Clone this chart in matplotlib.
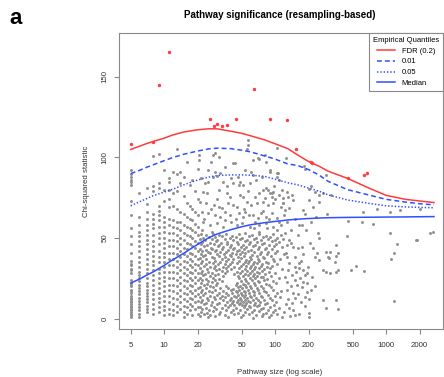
import numpy as np
import matplotlib
matplotlib.use('Agg')
import matplotlib.pyplot as plt
from matplotlib.lines import Line2D

plt.rcParams['font.family'] = ['Liberation Sans', 'DejaVu Sans']
plt.rcParams['lines.scale_dashes'] = False

# small pathway sizes form vertical columns
col_sizes = [5, 6, 7, 8, 9, 10, 11, 12, 13, 14, 15, 16, 17, 18, 19, 20]
col_values = [
    [92, 90, 88, 86, 85, 83, 73, 64, 56, 51, 46, 41, 36, 34, 33, 31, 30, 28, 24, 22, 21, 20, 18, 17,
     16, 14, 13, 12, 11, 10, 9, 8, 7, 6, 5, 4, 3, 2, 1],
    [78, 63, 58, 54, 51, 48, 45, 42, 38, 35, 32, 29, 27, 25, 23, 21, 19, 17, 15, 13, 11, 9, 7, 5, 3, 1],
    [81, 71, 66, 62, 58, 55, 52, 49, 46, 43, 40, 37, 34, 31, 28, 25, 22, 20, 18, 16, 14, 12, 10, 8, 6, 4],
    [101, 82, 79, 65, 62, 59, 56, 52, 48, 45, 42, 39, 36, 33, 30, 27, 24, 21, 18, 15, 12, 9, 6, 3],
    [102, 84, 81, 70, 67, 64, 61, 57, 53, 50, 46, 42, 38, 35, 31, 28, 25, 22, 19, 16, 13, 10, 7, 4],
    [92, 80, 73, 63, 60, 57, 54, 50, 47, 44, 41, 38, 35, 32, 29, 26, 23, 20, 17, 14, 11, 8, 5, 2],
    [87, 85, 80, 74, 69, 62, 58, 53, 49, 45, 41, 37, 33, 29, 25, 21, 18, 14, 10, 6, 3],
    [91, 78, 70, 61, 57, 53, 49, 45, 41, 37, 33, 29, 25, 21, 17, 13, 9, 5, 2],
    [105, 90, 79, 68, 60, 56, 52, 48, 44, 40, 36, 32, 28, 24, 20, 16, 12, 8, 4],
    [91, 84, 66, 60, 55, 50, 46, 42, 38, 34, 30, 26, 22, 18, 14, 10, 6],
    [88, 76, 65, 58, 53, 49, 44, 40, 36, 32, 28, 24, 20, 16, 12, 8, 4, 1],
    [97, 72, 63, 57, 52, 47, 43, 39, 35, 31, 27, 23, 19, 15, 11, 7, 3],
    [83, 70, 62, 56, 51, 46, 41, 37, 33, 29, 25, 21, 17, 13, 9, 5],
    [86, 68, 61, 55, 50, 45, 40, 36, 32, 28, 24, 20, 16, 12, 8, 2],
    [79, 66, 59, 54, 48, 44, 39, 34, 30, 26, 22, 18, 14, 10, 6],
    [93, 74, 64, 57, 52, 47, 42, 37, 33, 28, 24, 19, 15, 11, 7, 3],
]

# dense cloud, sizes 21-120, statistic below ~55
cloud_low = [
    (21.5, 52.3), (24, 51.6), (27.5, 52.8), (31, 51.9), (36, 52.5), (41, 51.4), (47, 52.2), (54, 52.9), (62, 51.7), (71, 52.4), (83, 51.5), (96, 52.6), (112, 51.8),
    (22.5, 50.2), (25.5, 50.9), (29, 50.4), (33.5, 51.0), (39, 50.1), (44, 50.7), (50, 50.3), (58, 51.1), (67, 50.0), (77, 50.6), (90, 50.9), (104, 50.2),
    (21, 49.3), (23.5, 48.7), (27, 49.5), (30, 48.8), (35, 49.2), (42, 48.6), (48, 49.4), (56, 48.9), (64, 49.6), (74, 48.7), (86, 49.1), (99, 48.5), (118, 49.3),
    (22, 47.8), (26, 47.2), (29.5, 47.9), (32.5, 47.1), (37, 47.6), (45, 47.3), (53, 48.0), (60, 47.4), (69, 47.7), (80, 47.0), (93, 47.9), (108, 47.5),
    (21.5, 46.3), (24.5, 45.7), (28, 46.4), (31.5, 45.8), (36.5, 46.1), (40, 45.6), (46, 46.5), (51, 45.9), (58, 46.2), (66, 45.5), (76, 46.4), (88, 45.8), (102, 46.0),
    (23, 44.8), (26.5, 44.1), (30.5, 44.9), (34, 44.3), (39.5, 44.6), (43, 44.0), (49, 44.7), (55, 44.2), (63, 44.8), (72, 44.4), (83, 44.1), (97, 44.9), (115, 44.3),
    (21, 43.2), (24, 42.6), (27, 43.4), (29.5, 42.8), (33, 43.1), (38, 42.5), (42, 43.3), (47, 42.7), (52, 43.0), (61, 42.4), (70, 43.2), (81, 42.9), (94, 43.4),
    (22, 41.8), (25, 41.2), (28.5, 41.9), (32, 41.3), (36, 41.6), (41, 41.0), (45, 41.7), (50, 41.4), (57, 41.8), (65, 41.1), (75, 41.6), (87, 41.2), (104, 41.9),
    (21.5, 40.3), (23.5, 39.7), (26, 40.4), (30, 39.8), (34.5, 40.1), (39, 39.6), (44, 40.3), (48, 39.9), (54, 40.5), (62, 39.7), (73, 40.2), (84, 39.8), (100, 40.4), (119, 39.9),
    (22.5, 38.7), (27, 38.2), (31, 38.9), (35, 38.3), (40, 38.6), (46, 38.1), (52, 38.8), (59, 38.4), (68, 38.7), (78, 38.2), (92, 38.6),
    (21, 37.3), (24, 36.8), (28, 37.4), (33, 36.7), (37.5, 37.2), (42, 36.9), (49, 37.5), (55, 36.6), (61, 37.1), (70, 36.8), (80, 37.4), (95, 36.7), (110, 37.2),
    (22, 35.8), (25.5, 35.2), (29, 35.9), (32, 35.3), (36, 35.7), (41, 35.1), (47, 35.8), (53, 35.4), (58, 35.6), (64, 35.0), (72, 35.7), (82, 35.2), (98, 35.9),
    (21.5, 34.2), (24, 33.7), (27.5, 34.4), (30.5, 33.8), (35, 34.1), (39, 33.6), (45, 34.3), (51, 33.9), (57, 34.5), (63, 33.7), (69, 34.2), (76, 33.8), (86, 34.4), (105, 33.9),
    (23, 32.8), (26, 32.2), (29, 32.9), (34, 32.3), (38, 32.6), (43, 32.1), (49, 32.8), (55, 32.4), (61, 32.7), (66, 32.0), (74, 32.6), (84, 32.3), (93, 32.9),
    (21, 31.3), (24.5, 30.7), (28, 31.4), (31, 30.8), (36, 31.2), (40, 30.6), (47, 31.3), (53, 30.9), (59, 31.5), (64, 30.7), (71, 31.1), (79, 30.8), (90, 31.4), (115, 30.9),
    (22, 29.8), (25, 29.2), (29.5, 29.9), (33, 29.3), (37, 29.6), (45, 29.1), (50, 29.8), (56, 29.4), (62, 29.7), (68, 29.0), (76, 29.6), (88, 29.2),
    (21.5, 28.3), (23.5, 27.7), (27, 28.4), (30.5, 27.8), (35, 28.1), (43, 27.6), (48, 28.3), (54, 27.9), (60, 28.5), (65, 27.7), (72, 28.2), (81, 27.8), (100, 28.4),
    (22.5, 26.8), (26, 26.2), (29, 26.9), (34, 26.3), (46, 26.6), (51, 26.1), (57, 26.8), (63, 26.4), (69, 26.7), (78, 26.0), (92, 26.6),
    (21, 25.3), (24, 24.7), (27.5, 25.4), (31, 24.8), (47, 25.2), (53, 24.6), (59, 25.3), (66, 24.9), (74, 25.5), (85, 24.7), (108, 25.1),
    (22, 23.8), (25, 23.2), (28.5, 23.9), (33, 23.3), (49, 23.6), (55, 23.1), (62, 23.8), (70, 23.4), (79, 23.7), (96, 23.0),
    (21.5, 22.3), (24.5, 21.7), (27, 22.4), (30, 21.8), (45, 22.1), (51, 21.6), (57, 22.3), (64, 21.9), (72, 22.5), (83, 21.7), (101, 22.2),
    (23, 20.8), (26, 20.2), (29.5, 20.9), (36, 20.3), (44, 20.6), (48, 20.1), (53, 20.8), (59, 20.4), (66, 20.7), (75, 20.0), (88, 20.6),
    (21, 19.3), (24, 18.7), (27.5, 19.4), (32, 18.8), (38, 19.2), (42, 18.6), (46, 19.3), (50, 18.9), (55, 19.5), (61, 18.7), (68, 19.1), (77, 18.8), (92, 19.4),
    (22, 17.8), (25.5, 17.2), (29, 17.9), (34, 17.3), (40, 17.6), (44, 17.1), (47, 17.8), (52, 17.4), (57, 17.7), (63, 17.0), (70, 17.6), (80, 17.2), (96, 17.9), (114, 17.3),
    (21.5, 16.3), (23.5, 15.7), (27, 16.4), (31, 15.8), (36, 16.1), (41, 15.6), (45, 16.3), (49, 15.9), (53, 16.5), (58, 15.7), (64, 16.2), (72, 15.8), (83, 16.4), (104, 15.9),
    (22.5, 14.8), (26, 14.2), (30, 14.9), (33, 14.3), (38, 14.6), (43, 14.1), (46, 14.8), (50, 14.4), (54, 14.7), (59, 14.0), (65, 14.6), (74, 14.2), (86, 14.8), (99, 14.3),
    (21, 13.3), (24.5, 12.7), (28, 13.4), (32, 12.8), (35, 13.2), (40, 12.6), (44, 13.3), (48, 12.9), (52, 13.5), (56, 12.7), (61, 13.1), (67, 12.8), (76, 13.4), (89, 12.9), (111, 13.2),
    (22, 11.8), (25, 11.2), (29, 11.9), (34, 11.3), (39, 11.6), (42, 11.1), (46, 11.8), (49, 11.4), (53, 11.7), (57, 11.0), (63, 11.6), (70, 11.2), (79, 11.8), (94, 11.3),
    (21.5, 10.3), (24, 9.7), (27, 10.4), (31, 9.8), (37, 10.1), (41, 9.6), (45, 10.3), (48, 9.9), (51, 10.5), (55, 9.7), (60, 10.2), (66, 9.8), (73, 10.4), (84, 9.9), (102, 10.2),
    (23, 8.8), (26.5, 8.2), (30, 8.9), (35, 8.3), (39, 8.6), (43, 8.1), (47, 8.8), (50, 8.4), (54, 8.7), (58, 8.0), (64, 8.6), (71, 8.2), (81, 8.8), (97, 8.3),
    (21, 7.3), (24, 6.7), (28, 7.4), (33, 6.8), (38, 7.2), (44, 6.6), (52, 7.3), (60, 6.9), (68, 7.5), (77, 6.7), (90, 7.1), (108, 6.8),
    (22, 5.8), (25.5, 5.2), (29.5, 5.9), (36, 5.3), (42, 5.6), (48, 5.1), (56, 5.8), (65, 5.4), (74, 5.7), (86, 5.0), (100, 5.6),
    (21.5, 4.3), (24.5, 3.7), (27.5, 4.4), (32, 3.8), (40, 4.1), (46, 3.6), (54, 4.3), (62, 3.9), (71, 4.5), (82, 3.7), (95, 4.2), (120, 3.8),
    (23, 2.8), (26, 2.2), (31, 2.9), (35, 2.3), (43, 2.6), (51, 2.1), (58, 2.8), (67, 2.4), (78, 2.7), (91, 2.0), (105, 2.6),
    (21, 1.3), (25, 0.7), (29, 1.4), (38, 0.8), (49, 1.2), (63, 0.6), (76, 1.3), (88, 0.9), (115, 1.2),
]

# sizes 21-120, statistic above ~55
cloud_mid = [
    (27.8, 101.6), (26.7, 97.4), (41.8, 96.8), (63, 98.4), (70, 99.5), (81, 101.6), (103, 105.7), (89, 91.2),
    (29, 91.2), (32, 90.2), (61, 91), (63, 89), (103, 90.2), (27.8, 88), (29.7, 88.5), (23.3, 84), (25, 85),
    (34, 85), (42, 84), (47, 83), (59, 84), (108, 86), (86, 79.8), (93, 77.8), (22.5, 78.8), (24.2, 77.8),
    (31, 79.8), (36.6, 77.8), (39, 75.7), (48, 76.7), (51, 75.7), (66, 75.7), (72, 77.8), (81, 74.7),
    (109, 76.7), (21, 72.5), (24, 71.6), (28, 70.5), (31, 69.4), (33, 68.4), (38, 71.6), (42, 70.5),
    (45, 69.4), (56, 72.5), (61, 70.5), (68, 71.6), (78, 72.5), (86, 70.5), (96, 71.6), (114, 69.4),
    (22, 66.3), (25, 65.3), (29, 64.3), (32, 63.2), (35.5, 66.3), (39, 64.3), (47, 65.3), (51, 63.2),
    (54, 66.3), (63, 64.3), (70, 62.2), (75, 65.3), (83, 63.2), (93, 65.3), (103, 62.2), (120, 64.3),
    (22.5, 60.1), (26, 58.1), (30, 59.1), (34, 57), (40, 60.1), (45, 58.1), (50, 59.1), (59, 57),
    (66, 60.1), (72, 58.1), (83, 59.1), (96, 57), (109, 60.1), (22, 55), (27, 53.9),
    (57, 110.9), (57, 108), (56, 105.5), (72, 98.9), (83, 97.4), (89, 92.2), (106, 90.2), (103, 88.1),
    (48, 85), (51, 82.9), (78, 79.8), (83, 80.9), (89, 77.8), (96, 78.8), (93, 75.7),
    (20.5, 101.6), (29, 102.6), (31, 100.5), (43.6, 96.4), (20.5, 98.4),
    (23, 62), (26.5, 68), (30, 74), (35, 61), (37, 82), (44, 62), (52, 68), (57, 79), (64, 56), (77, 67),
    (85, 56), (99, 74), (112, 58), (25, 92), (35, 94), (46, 88), (53, 92), (67, 86), (76, 88), (98, 82),
    (118, 72), (21.5, 87), (40, 87), (58, 64), (71, 54), (88, 62), (105, 55), (115, 80),
]

# larger pathways
cloud_right = [
    (183, 95), (187, 93), (125, 99.5), (290, 89), (209, 82.3), (204, 80.2), (228, 78.8), (251, 76.7),
    (270, 78.1), (320, 76.7), (127, 78.8), (131, 75.7), (141, 76.7), (144, 73.6), (118, 74.7), (200, 73.6),
    (220, 69.4), (250, 72.5), (296, 64.9), (456, 60.7), (610, 60.1), (760, 58.7), (615, 66.3), (827, 68),
    (1090, 66.2), (1320, 67.4), (2000, 67.8), (175, 57.9), (118, 71.6), (122, 67.4), (134, 68.4),
    (122, 52.9), (134, 48.8), (127, 45.7), (245, 52.9), (250, 49.8), (448, 51.2), (1090, 52.9), (1250, 46.3),
    (1910, 48.8), (2640, 53.5), (145, 44.6), (175, 44.6), (220, 43.6), (240, 40.5), (230, 38.4), (250, 36.3),
    (290, 41.5), (313, 41.5), (300, 38.4), (355, 45.7), (372, 40.5), (1170, 40.5), (1100, 36.8), (540, 32.6),
    (480, 30.1), (630, 29.7), (270, 30.1), (290, 29.1), (313, 28.1), (372, 30.1), (355, 29.1), (198, 32.2),
    (192, 28.1), (127, 38.4), (134, 34.3), (151, 32.2), (163, 31.2), (164, 34.3), (180, 30.1), (192, 16.6),
    (187, 13.5), (151, 12.5), (141, 9.4), (270, 11.5), (355, 11.5), (290, 6.3), (372, 5.7), (204, 3.2),
    (204, 1.1), (1180, 11), (134, 6.3), (145, 5.3), (122, 26), (127, 22.9), (151, 23.9), (158, 20.8),
    (175, 19.8), (180, 22.9), (180, 67.4), (303, 37.4), (350, 38.8), (345, 35.3), (2500, 53.3), (1870, 48.8),
    (125, 41), (138, 47), (150, 38), (160, 44), (170, 36), (130, 30), (142, 27), (155, 29), (168, 25),
    (185, 27), (195, 22), (128, 18), (140, 20), (160, 15), (172, 10), (185, 8), (130, 12), (145, 16),
    (165, 3), (150, 2), (135, 1.5), (125, 9), (200, 12), (210, 18), (215, 26), (230, 20), (180, 40),
    (205, 47), (160, 52), (140, 55), (190, 55), (128, 60), (150, 62), (165, 58), (210, 60), (235, 63), (185, 65),
]

# significant pathways (red)
sig_x = [5, 8, 9, 11, 26, 28, 30, 33, 37, 44.5, 64.6, 90, 129, 154, 209, 214, 451, 632, 676]
sig_y = [108.2, 109.8, 145, 165.3, 123.7, 119.8, 120.5, 119.6, 120.2, 124, 142.5, 124, 123.5, 105.3, 97.4, 96.6, 87, 89.1, 90.2]

# empirical quantile curves
curve_x = [5, 6, 7, 8, 10, 12, 15, 20, 25, 30, 40, 50, 60, 80, 100, 130, 160, 200, 250, 300, 450, 700, 1000, 1500, 2000, 2700]
fdr = [105, 107, 108.7, 110, 112, 114, 115.8, 117.2, 117.8, 117.8, 116.3, 115, 113.5, 111, 108.5, 105.5, 101.5, 97.5, 94.5, 91.5, 87, 81, 76.5, 74, 73, 72]
q01 = [90, 92, 94, 95.5, 98, 100, 102, 104, 105.3, 105.8, 105.5, 104.5, 103.5, 101, 99, 96, 95, 92.5, 89, 85.2, 80, 76.7, 74, 72.3, 71.3, 70.6]
q05 = [70, 72.5, 74.5, 76.3, 78.5, 80.3, 83, 86, 87.8, 88.8, 89.2, 89.2, 89, 88.3, 86.5, 84.3, 83, 81, 79, 76.8, 73.6, 71.5, 70, 69.3, 69, 68.8]
median = [22, 24.5, 27, 29, 33, 36.5, 40.5, 46, 50, 52.5, 55.2, 57, 58.2, 59.5, 60.3, 61.2, 61.7, 62.1, 62.4, 62.6, 62.8, 62.9, 63, 63.1, 63.2, 63.3]

x_ticks = [5, 10, 20, 50, 100, 200, 500, 1000, 2000]
y_ticks = [0, 50, 100, 150]

gray = '#8f8f8f'
red = '#ff3b3b'
blue = '#3050ff'
axcol = '#8a8a8a'

fig = plt.figure(figsize=(4.44, 3.77), dpi=100)
ax = fig.add_axes([118.7 / 444, 48 / 377, (443 - 118.7) / 444, 296 / 377])

gx, gy = [], []
for s, vals in zip(col_sizes, col_values):
    gx += [s] * len(vals)
    gy += vals
for pts in (cloud_low, cloud_mid, cloud_right):
    gx += [p[0] for p in pts]
    gy += [p[1] for p in pts]

ax.scatter(gx, gy, s=4.5, color=gray, linewidths=0, zorder=2)
ax.scatter(sig_x, sig_y, s=6, color=red, linewidths=0, zorder=3)

ax.plot(curve_x, fdr, color=red, lw=1.1, zorder=4)
ax.plot(curve_x, q01, color=blue, lw=1.1, dashes=(3.5, 2.2), zorder=4)
ax.plot(curve_x, q05, color=blue, lw=1.1, dashes=(1.0, 1.4), zorder=4)
ax.plot(curve_x, median, color=blue, lw=1.1, zorder=4)

ax.set_xscale('log')
ax.set_xlim(3.898, 3254)
ax.set_ylim(-6.5, 177.3)
ax.set_xticks(x_ticks)
ax.set_xticklabels([str(t) for t in x_ticks])
ax.xaxis.set_minor_locator(matplotlib.ticker.NullLocator())
ax.set_yticks(y_ticks)
ax.set_yticklabels([str(t) for t in y_ticks], rotation=90, va='center')

for sp in ax.spines.values():
    sp.set_color(axcol)
    sp.set_linewidth(0.8)
ax.tick_params(axis='both', colors=axcol, labelcolor='#333333', labelsize=5.7, length=3.5, width=0.8)
ax.tick_params(axis='x', pad=6)
ax.tick_params(axis='y', pad=4)

handles = [
    Line2D([], [], color=red, lw=1.1),
    Line2D([], [], color=blue, lw=1.1, dashes=(3.5, 2.2)),
    Line2D([], [], color=blue, lw=1.1, dashes=(1.0, 1.4)),
    Line2D([], [], color=blue, lw=1.1),
]
leg = ax.legend(handles, ['FDR (0.2)', '0.01', '0.05', 'Median'], loc='upper right',
                title='Empirical Quantiles', fontsize=5.5, title_fontsize=5.5,
                frameon=True, fancybox=False, borderaxespad=0, framealpha=1,
                handlelength=2.3, handletextpad=0.9, labelspacing=0.45, borderpad=0.5)
leg.get_frame().set_edgecolor(axcol)
leg.get_frame().set_linewidth(0.8)

fig.text(280 / 444, 1 - 15 / 377, 'Pathway significance (resampling-based)', ha='center', va='center',
         fontsize=7, fontweight='bold')
fig.text(16 / 444, 1 - 19 / 377, 'a', ha='center', va='center', fontsize=16, fontweight='bold')
fig.text(86 / 444, 0.52, 'Chi-squared statistic', rotation=90, ha='center', va='center', fontsize=5.7, color='#333333')
fig.text(280 / 444, 1 - 373 / 377, 'Pathway size (log scale)', ha='center', va='center', fontsize=5.7, color='#333333')

plt.savefig('out.png', dpi=100)
